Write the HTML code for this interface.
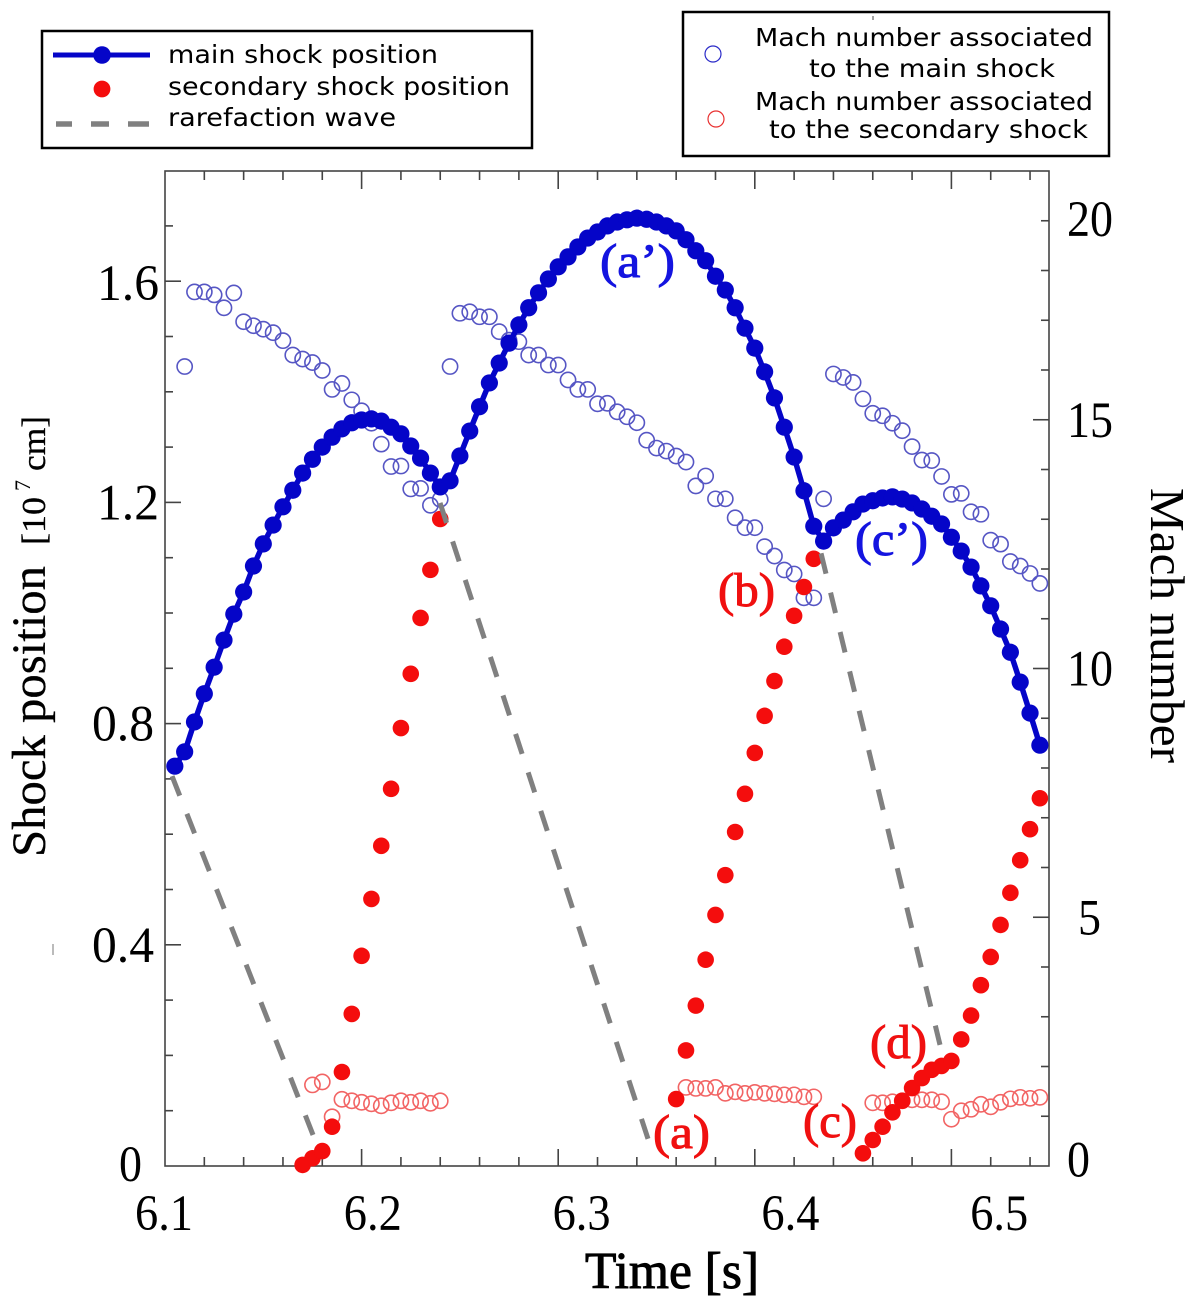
<!DOCTYPE html>
<html lang="en">
<head>
<meta charset="utf-8">
<title>Shock position and Mach number versus time</title>
<style>
html,body{margin:0;padding:0;background:#fff;}
svg{display:block;}
.serif{font-family:"Liberation Serif",serif;}
.sans{font-family:"DejaVu Sans",sans-serif;}
</style>
</head>
<body>
<svg id="chart" xmlns="http://www.w3.org/2000/svg" width="1200" height="1299" viewBox="0 0 1200 1299">
  <rect x="0" y="0" width="1200" height="1299" fill="#fff"/>
  <g id="grid-layer"></g>
  <g id="mach-layer"></g>
  <g id="main-layer"></g>
  <g id="secondary-layer"></g>
  <g id="wave-layer"></g>
  <g id="label-layer"></g>

  <text class="serif" x="585" y="1288" font-size="52" stroke="#000" stroke-width="1" textLength="174" lengthAdjust="spacingAndGlyphs">Time [s]</text>

  <g class="serif" transform="translate(45,857) rotate(-90)">
    <text x="0" y="0" font-size="48" stroke="#000" stroke-width="0.3" textLength="291" lengthAdjust="spacingAndGlyphs">Shock position</text>
    <text x="312" y="0" font-size="34" stroke="#000" stroke-width="0.3" textLength="48" lengthAdjust="spacingAndGlyphs">[10</text>
    <text x="366" y="-15" font-size="22">7</text>
    <text x="386" y="0" font-size="34" stroke="#000" stroke-width="0.3" textLength="55" lengthAdjust="spacingAndGlyphs">cm]</text>
  </g>

  <text class="serif" transform="translate(1151,488) rotate(90)" x="0" y="0" font-size="49" textLength="275" lengthAdjust="spacingAndGlyphs">Mach number</text>

  <g class="serif" font-size="48" stroke-width="1">
    <text x="600" y="277" fill="#1414e0" stroke="#1414e0" textLength="75" lengthAdjust="spacingAndGlyphs">(a’)</text>
    <text x="855" y="555" fill="#1414e0" stroke="#1414e0" textLength="73" lengthAdjust="spacingAndGlyphs">(c’)</text>
    <text x="718" y="606" fill="#f01010" stroke="#f01010" textLength="57" lengthAdjust="spacingAndGlyphs">(b)</text>
    <text x="653" y="1148" fill="#f01010" stroke="#f01010" textLength="57" lengthAdjust="spacingAndGlyphs">(a)</text>
    <text x="803" y="1137" fill="#f01010" stroke="#f01010" textLength="54" lengthAdjust="spacingAndGlyphs">(c)</text>
    <text x="870" y="1058" fill="#f01010" stroke="#f01010" textLength="57" lengthAdjust="spacingAndGlyphs">(d)</text>
  </g>

  <line x1="53" y1="944" x2="53" y2="955" stroke="#777" stroke-width="1"/>

  <g>
    <rect x="42" y="31" width="490" height="117" fill="#fff" stroke="#000" stroke-width="2.5"/>
    <line x1="53" y1="55" x2="150" y2="55" stroke="#0505c8" stroke-width="5"/>
    <circle cx="102" cy="55" r="8.8" fill="#0505c8"/>
    <circle cx="102" cy="89" r="8.4" fill="#f40d0d"/>
    <line x1="56" y1="124" x2="149" y2="124" stroke="#808080" stroke-width="5.5" stroke-dasharray="16 19 18 19 21"/>
    <g class="sans" font-size="25">
      <text x="168" y="63" textLength="270" lengthAdjust="spacingAndGlyphs">main shock position</text>
      <text x="168" y="95" textLength="342" lengthAdjust="spacingAndGlyphs">secondary shock position</text>
      <text x="168" y="126" textLength="228" lengthAdjust="spacingAndGlyphs">rarefaction wave</text>
    </g>
  </g>

  <g>
    <rect x="683" y="12" width="426" height="144" fill="#fff" stroke="#000" stroke-width="2.5"/>
    <line x1="873" y1="16" x2="873" y2="20" stroke="#444" stroke-width="1"/>
    <ellipse cx="713" cy="54" rx="8" ry="8" fill="none" stroke="#2a2ac8" stroke-width="1.2"/>
    <ellipse cx="716" cy="119" rx="8" ry="8" fill="none" stroke="#e83030" stroke-width="1.2"/>
    <g class="sans" font-size="25">
      <text x="755" y="46" textLength="338" lengthAdjust="spacingAndGlyphs">Mach number associated</text>
      <text x="809" y="77" textLength="246" lengthAdjust="spacingAndGlyphs">to the main shock</text>
      <text x="755" y="110" textLength="338" lengthAdjust="spacingAndGlyphs">Mach number associated</text>
      <text x="769" y="138" textLength="319" lengthAdjust="spacingAndGlyphs">to the secondary shock</text>
    </g>
  </g>
</svg>

<script>
const xTickLabels = ["6.1", "6.2", "6.3", "6.4", "6.5"];
const xTickValues = [6.1, 6.2, 6.3, 6.4, 6.5];
const yTickLabels = ["0", "0.4", "0.8", "1.2", "1.6"];
const yTickValues = [0, 0.4, 0.8, 1.2, 1.6];
const machTickLabels = ["0", "5", "10", "15", "20"];
const machTickValues = [0, 5, 10, 15, 20];

const mainTimes = [6.105,6.11,6.115,6.12,6.125,6.13,6.135,6.14,6.145,6.15,6.155,6.16,6.165,6.17,6.175,6.18,6.185,6.19,6.195,6.2,6.205,6.21,6.215,6.22,6.225,6.23,6.235,6.24,6.245,6.25,6.255,6.26,6.265,6.27,6.275,6.28,6.285,6.29,6.295,6.3,6.305,6.31,6.315,6.32,6.325,6.33,6.335,6.34,6.345,6.35,6.355,6.36,6.365,6.37,6.375,6.38,6.385,6.39,6.395,6.4,6.405,6.41,6.415,6.42,6.425,6.43,6.435,6.44,6.445,6.45,6.455,6.46,6.465,6.47,6.475,6.48,6.485,6.49,6.495,6.5,6.505,6.51,6.515,6.52,6.525,6.53,6.535,6.54,6.545];
const mainPosition = [0.723,0.749,0.803,0.854,0.902,0.951,0.998,1.038,1.085,1.125,1.159,1.192,1.222,1.253,1.278,1.3,1.318,1.333,1.344,1.349,1.351,1.347,1.336,1.324,1.302,1.28,1.253,1.228,1.239,1.284,1.329,1.373,1.416,1.452,1.488,1.521,1.552,1.579,1.604,1.626,1.644,1.662,1.678,1.689,1.7,1.707,1.711,1.714,1.712,1.707,1.7,1.691,1.675,1.655,1.637,1.609,1.584,1.552,1.515,1.479,1.436,1.389,1.336,1.282,1.221,1.157,1.13,1.154,1.168,1.183,1.197,1.203,1.208,1.21,1.206,1.199,1.188,1.175,1.161,1.137,1.112,1.083,1.049,1.013,0.971,0.929,0.875,0.819,0.761];

const secondaryTimes = [6.17,6.175,6.18,6.185,6.19,6.195,6.2,6.205,6.21,6.215,6.22,6.225,6.23,6.235,6.24,
  6.36,6.365,6.37,6.375,6.38,6.385,6.39,6.395,6.4,6.405,6.41,6.415,6.42,6.425,6.43,
  6.455,6.46,6.465,6.47,6.475,6.48,6.485,6.49,6.495,6.5,6.505,6.51,6.515,6.52,6.525,6.53,6.535,6.54,6.545];
const secondaryPosition = [0.002,0.014,0.027,0.071,0.17,0.275,0.38,0.483,0.579,0.682,0.792,0.89,0.991,1.078,1.17,
  0.121,0.209,0.29,0.373,0.454,0.526,0.604,0.673,0.747,0.814,0.877,0.939,0.995,1.047,1.098,
  0.023,0.047,0.071,0.097,0.118,0.141,0.159,0.174,0.181,0.19,0.229,0.272,0.327,0.378,0.436,0.494,0.553,0.609,0.665];

const machMainTimes = [6.11,6.115,6.12,6.125,6.13,6.135,6.14,6.145,6.15,6.155,6.16,6.165,6.17,6.175,6.18,6.185,6.19,6.195,6.2,6.205,6.21,6.215,6.22,6.225,6.23,6.235,6.24,
  6.245,6.25,6.255,6.26,6.265,6.27,6.275,6.28,6.285,6.29,6.295,6.3,6.305,6.31,6.315,6.32,6.325,6.33,6.335,6.34,6.345,6.35,6.355,6.36,6.365,6.37,6.375,6.38,6.385,6.39,6.395,6.4,6.405,6.41,6.415,6.42,6.425,6.43,
  6.435,6.44,6.445,6.45,6.455,6.46,6.465,6.47,6.475,6.48,6.485,6.49,6.495,6.5,6.505,6.51,6.515,6.52,6.525,6.53,6.535,6.54,6.545];
const machMainValues = [16.07,17.57,17.57,17.51,17.25,17.55,16.97,16.89,16.82,16.75,16.59,16.3,16.22,16.15,15.99,15.61,15.73,15.4,15.18,14.93,14.51,14.06,14.07,13.61,13.62,13.28,13.4,
  16.07,17.14,17.17,17.07,17.07,16.77,16.6,16.57,16.3,16.3,16.1,16.1,15.8,15.61,15.61,15.32,15.33,15.16,15.06,14.94,14.59,14.43,14.37,14.27,14.15,13.67,13.87,13.41,13.41,13.03,12.83,12.83,12.45,12.26,11.98,11.9,11.42,11.42,
  13.41,15.92,15.85,15.75,15.42,15.13,15.08,14.93,14.78,14.46,14.19,14.18,13.86,13.5,13.52,13.15,13.1,12.58,12.5,12.15,12.06,11.91,11.71];

const machSecondaryTimes = [6.175,6.18,6.185,6.19,6.195,6.2,6.205,6.21,6.215,6.22,6.225,6.23,6.235,6.24,
  6.365,6.37,6.375,6.38,6.385,6.39,6.395,6.4,6.405,6.41,6.415,6.42,6.425,6.43,
  6.46,6.465,6.47,6.475,6.48,6.485,6.49,6.495,6.5,6.505,6.51,6.515,6.52,6.525,6.53,6.535,6.54,6.545];
const machSecondaryValues = [1.63,1.69,0.99,1.34,1.31,1.28,1.25,1.21,1.27,1.31,1.28,1.31,1.26,1.31,
  1.58,1.56,1.56,1.58,1.46,1.49,1.46,1.48,1.46,1.45,1.43,1.43,1.39,1.39,
  1.27,1.27,1.29,1.31,1.33,1.33,1.33,1.29,0.94,1.11,1.14,1.24,1.19,1.28,1.35,1.38,1.36,1.38];

const waveStartTimes = [6.1036, 6.2399, 6.4337];
const waveStartPositions = [0.705, 1.199, 1.108];
const waveEndTimes = [6.1773, 6.3467, 6.4942];
const waveEndPositions = [0.038, 0.038, 0.219];

const NS = 'http://www.w3.org/2000/svg';
const frame = {left: 165, right: 1049, top: 171, bottom: 1166};

function xScale(t) { return frame.left + (t - 6.1) * 1966; }
function yScale(v) { return frame.bottom - v * 553; }
function machScale(m) { return frame.bottom - m * 49.75; }
function xLabelPos(t) { return 164 + (t - 6.1) * 2088; }

function svgEl(tag, parent, attrs) {
  const el = document.createElementNS(NS, tag);
  for (const k in attrs) el.setAttribute(k, attrs[k]);
  parent.appendChild(el);
  return el;
}

const gridLayer = document.getElementById('grid-layer');
const machLayer = document.getElementById('mach-layer');
const mainLayer = document.getElementById('main-layer');
const secondaryLayer = document.getElementById('secondary-layer');
const waveLayer = document.getElementById('wave-layer');
const labelLayer = document.getElementById('label-layer');
const axisColor = '#444';

const frameRect = svgEl('rect', gridLayer, {x: frame.left, y: frame.top, width: frame.right - frame.left, height: frame.bottom - frame.top, fill: 'none', stroke: axisColor, 'stroke-width': 1.6});



function tick(x1, y1, x2, y2) {
  const t = svgEl('line', gridLayer, {x1: x1, y1: y1, x2: x2, y2: y2, stroke: axisColor, 'stroke-width': 1.6});
  
  
}

for (let i = 1; i <= 22; i++) {
  const x = xScale(6.1 + i * 0.02);
  const major = i % 5 === 0;
  tick(x, frame.bottom, x, frame.bottom - (major ? 17 : 9));
  tick(x, frame.top, x, frame.top + (major ? 18 : 9));
}
for (let i = 1; i <= 17; i++) {
  const y = yScale(i * 0.1);
  tick(frame.left, y, frame.left + (i % 4 === 0 ? 16 : 8), y);
}
for (let i = 1; i <= 19; i++) {
  const y = machScale(i);
  tick(frame.right, y, frame.right - (i % 5 === 0 ? 16 : 8), y);
}

function label(text, x, y, anchor, width, name) {
  const t = svgEl('text', labelLayer, {x: x, y: y, 'text-anchor': anchor, 'font-size': 51, 'font-family': '"Liberation Serif", serif'});
  if (width) { t.setAttribute('textLength', width); t.setAttribute('lengthAdjust', 'spacingAndGlyphs'); }
  t.textContent = text;
  
  
}

xTickValues.forEach(function (v, i) {
  label(xTickLabels[i], xLabelPos(v) - 29, 1230, 'start', 58, 'x-tick-label');
});
yTickValues.forEach(function (v, i) {
  const isZero = v === 0;
  const w = isZero ? 23 : 62;
  const left = isZero ? 119 : (v > 1 ? 97 : 92);
  const nudge = v === 1.6 ? 19 : 17;
  label(yTickLabels[i], left, yScale(v) + (isZero ? 15 : nudge), 'start', w, 'y-tick-label');
});
machTickValues.forEach(function (m, i) {
  let base = machScale(m) + 17;
  if (m === 20) base = machScale(m) + 65;
  if (m === 0) base = machScale(m) + 10.5;
  const small = m === 5 || m === 0;
  const left = m === 5 ? 1078 : 1067;
  label(machTickLabels[i], left, base, 'start', small ? 23 : 46, 'mach-tick-label');
});

machMainTimes.forEach(function (t, i) {
  const c = svgEl('circle', machLayer, {cx: xScale(t), cy: machScale(machMainValues[i]), r: 7.6, fill: 'none', stroke: '#5656c4', 'stroke-width': 1.6});
  
  
});
machSecondaryTimes.forEach(function (t, i) {
  const c = svgEl('circle', machLayer, {cx: xScale(t), cy: machScale(machSecondaryValues[i]), r: 7.6, fill: 'none', stroke: '#f26464', 'stroke-width': 1.6});
  
  
});

const mainPoints = mainTimes.map(function (t, i) { return xScale(t).toFixed(1) + ',' + yScale(mainPosition[i]).toFixed(1); }).join(' ');
const mainLine = svgEl('polyline', mainLayer, {points: mainPoints, fill: 'none', stroke: '#0505c8', 'stroke-width': 5.5, 'stroke-linejoin': 'round'});


mainTimes.forEach(function (t, i) {
  const c = svgEl('circle', mainLayer, {cx: xScale(t), cy: yScale(mainPosition[i]), r: 8.6, fill: '#0505c8'});
  
  
});

secondaryTimes.forEach(function (t, i) {
  const c = svgEl('circle', secondaryLayer, {cx: xScale(t), cy: yScale(secondaryPosition[i]), r: 8.3, fill: '#f40d0d'});
  
  
});

waveStartTimes.forEach(function (t, i) {
  const l = svgEl('line', waveLayer, {x1: xScale(t), y1: yScale(waveStartPositions[i]), x2: xScale(waveEndTimes[i]), y2: yScale(waveEndPositions[i]), stroke: '#808080', 'stroke-width': 5, 'stroke-dasharray': '21 19.5'});
  
  
});
</script>
</body>
</html>
